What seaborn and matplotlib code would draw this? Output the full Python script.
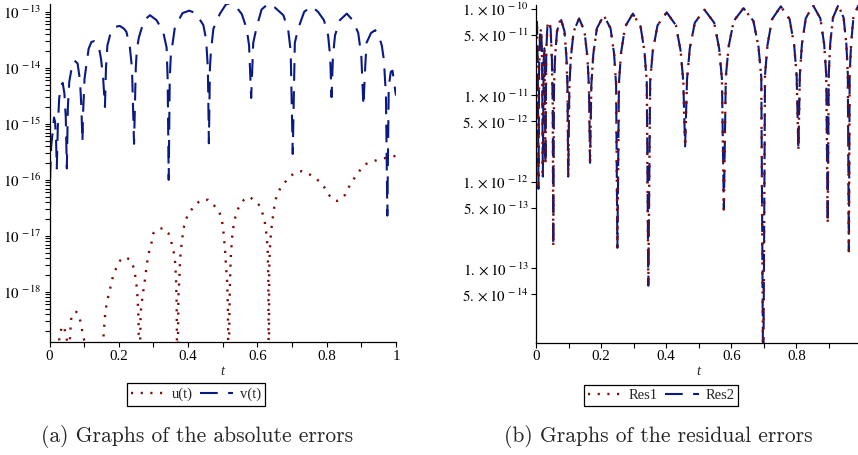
import matplotlib
matplotlib.use("Agg")
import matplotlib.pyplot as plt
import seaborn as sns
import numpy as np
from matplotlib.ticker import LogLocator, NullFormatter, NullLocator, MultipleLocator, FixedLocator

# ---------------- data: (a) absolute errors ----------------
v_t = [0.000, 0.002, 0.005, 0.009, 0.013, 0.016, 0.019,
       0.021, 0.024, 0.028, 0.033, 0.038, 0.043, 0.047,
       0.050, 0.053, 0.057, 0.064, 0.072, 0.081, 0.088, 0.092,
       0.095, 0.097, 0.101, 0.107, 0.113, 0.121, 0.129, 0.137, 0.143, 0.149, 0.155,
       0.160, 0.163, 0.167, 0.178, 0.190, 0.203, 0.215, 0.222, 0.232, 0.238,
       0.244, 0.249, 0.252, 0.258, 0.273, 0.290, 0.309, 0.328, 0.338, 0.341,
       0.344, 0.347, 0.350, 0.362, 0.384, 0.403, 0.422, 0.444, 0.452, 0.457,
       0.460, 0.463, 0.466, 0.473, 0.492, 0.510, 0.524, 0.540, 0.555, 0.569, 0.576,
       0.582, 0.588, 0.598, 0.612, 0.632, 0.650, 0.675, 0.689, 0.696,
       0.702, 0.708, 0.718, 0.735, 0.756, 0.775, 0.792, 0.804, 0.810,
       0.814, 0.818, 0.824, 0.838, 0.858, 0.875, 0.891, 0.900,
       0.906, 0.911, 0.915, 0.928, 0.940, 0.952, 0.959, 0.965, 0.971,
       0.975, 0.979, 0.985, 0.990, 0.995, 1.000]
v_err = [1e-19, 1.3e-16, 4.0e-16, 7.1e-16, 1.3e-15, 1.1e-15, 5.0e-16,
         1.6e-16, 8.9e-16, 2.9e-15, 4.6e-15, 5.4e-15, 3.5e-15, 1.3e-15,
         1.6e-16, 2.0e-15, 5.6e-15, 1.0e-14, 1.35e-14, 1.2e-14, 6.0e-15, 2.0e-15,
         4.8e-16, 1.6e-15, 6.3e-15, 1.2e-14, 2.2e-14, 2.9e-14, 3.0e-14, 2.8e-14, 2.3e-14, 1.4e-14, 6.3e-15,
         2.0e-15, 1.0e-14, 2.5e-14, 4.6e-14, 5.4e-14, 5.6e-14, 5.0e-14, 4.4e-14, 2.3e-14, 1.0e-14,
         4.4e-16, 1.0e-14, 2.1e-14, 3.5e-14, 7.1e-14, 8.7e-14, 7.1e-14, 4.4e-14, 2.3e-14, 6.3e-15,
         1.0e-16, 6.3e-15, 1.6e-14, 5.4e-14, 9.5e-14, 1.05e-13, 9.5e-14, 5.8e-14, 3.2e-14, 1.0e-14,
         4.5e-16, 1.0e-14, 2.0e-14, 5.0e-14, 9.3e-14, 1.38e-13, 1.41e-13, 1.2e-13, 9.1e-14, 5.0e-14, 2.5e-14,
         2.9e-15, 2.8e-14, 5.4e-14, 1.1e-13, 1.41e-13, 1.2e-13, 8.7e-14, 4.7e-14, 2.0e-14,
         2.9e-16, 2.8e-14, 5.1e-14, 1.0e-13, 1.26e-13, 1.0e-13, 7.1e-14, 3.8e-14, 1.6e-14,
         3.0e-15, 1.6e-14, 3.8e-14, 7.1e-14, 9.3e-14, 7.1e-14, 4.2e-14, 1.6e-14,
         2.1e-15, 1.0e-14, 2.8e-14, 4.2e-14, 4.7e-14, 3.5e-14, 2.5e-14, 1.4e-14, 3.2e-15,
         2.3e-17, 4.6e-15, 8.5e-15, 8.9e-15, 5.2e-15, 3.2e-15]

u_t = [0.000, 0.024, 0.028, 0.034, 0.040, 0.046, 0.051,
       0.057, 0.062, 0.070, 0.077, 0.084, 0.089, 0.096, 0.101,
       0.105, 0.130, 0.152,
       0.155, 0.160, 0.165, 0.175, 0.184, 0.192, 0.201, 0.216, 0.232, 0.242, 0.250, 0.254, 0.257,
       0.259, 0.263, 0.266, 0.271, 0.276, 0.280, 0.285, 0.293, 0.300, 0.309, 0.328, 0.343, 0.350,
       0.357, 0.362, 0.365, 0.367,
       0.369, 0.372, 0.375, 0.377, 0.381, 0.386, 0.391, 0.401, 0.410, 0.425, 0.439, 0.458, 0.473,
       0.487, 0.497, 0.502, 0.506, 0.509, 0.513, 0.515,
       0.517, 0.519, 0.521, 0.523, 0.526, 0.529, 0.535, 0.542, 0.550, 0.561, 0.577, 0.593, 0.608,
       0.615, 0.622, 0.627, 0.630, 0.6315,
       0.633, 0.634, 0.636, 0.639, 0.642, 0.646, 0.651, 0.657, 0.667, 0.680, 0.692, 0.709, 0.728,
       0.747, 0.766, 0.781, 0.795, 0.805, 0.819, 0.829, 0.838, 0.853, 0.862, 0.872, 0.885, 0.896,
       0.911, 0.930, 0.949, 0.968, 0.990, 1.000]
u_err = [1e-21, 1e-20, 1.4e-19, 2.2e-19, 2.5e-19, 1.9e-19, 1.3e-19,
         8e-20, 3.2e-19, 4.3e-19, 4.4e-19, 4.0e-19, 3.0e-19, 1.8e-19, 1.3e-19,
         1e-20, 5e-20, 1e-20,
         1.35e-19, 3.6e-19, 6.3e-19, 1.15e-18, 2.0e-18, 2.6e-18, 3.5e-18, 4.2e-18, 3.8e-18, 2.8e-18, 1.6e-18, 8.1e-19, 3.2e-19,
         1e-20, 4.2e-19, 6.3e-19, 1.07e-18, 1.74e-18, 2.8e-18, 4.6e-18, 6.8e-18, 1.12e-17, 1.29e-17, 1.38e-17, 1.12e-17, 8.3e-18,
         6.0e-18, 3.7e-18, 1.86e-18, 6.3e-19,
         1e-20, 8.1e-19, 1.86e-18, 4.0e-18, 6.8e-18, 1.26e-17, 1.78e-17, 2.5e-17, 2.95e-17, 3.8e-17, 4.4e-17, 4.4e-17, 3.6e-17,
         2.9e-17, 2.1e-17, 1.17e-17, 6.3e-18, 3.2e-18, 1.4e-18, 4.7e-19,
         1e-20, 3.5e-19, 1.6e-18, 4.0e-18, 7.9e-18, 1.26e-17, 2.0e-17, 2.9e-17, 3.5e-17, 4.4e-17, 5.0e-17, 4.2e-17, 3.4e-17,
         2.5e-17, 1.66e-17, 9.8e-18, 4.9e-18, 1.6e-18,
         1e-20, 2.5e-18, 5.9e-18, 1.1e-17, 1.66e-17, 2.5e-17, 4.1e-17, 5.5e-17, 7.2e-17, 9.1e-17, 1.12e-16, 1.35e-16, 1.43e-16,
         1.29e-16, 1.1e-16, 9.1e-17, 7.1e-17, 5.5e-17, 4.4e-17, 4.2e-17, 4.4e-17, 5.4e-17, 7.1e-17, 9.1e-17, 1.2e-16, 1.48e-16,
         1.9e-16, 2.1e-16, 2.3e-16, 2.45e-16, 2.6e-16, 2.7e-16]

# ---------------- data: (b) residual errors ----------------
res_t = [0.000, 0.003, 0.0055, 0.0075, 0.0095, 0.0125, 0.0155, 0.0185,
         0.021, 0.0235, 0.026, 0.029, 0.0315, 0.035, 0.040, 0.045, 0.049, 0.0515,
         0.053, 0.0553, 0.0585, 0.0645, 0.076, 0.0875, 0.0935, 0.0967,
         0.099, 0.1024, 0.107, 0.1158, 0.1325, 0.149, 0.158, 0.1627,
         0.166, 0.170, 0.176, 0.187, 0.208, 0.229, 0.240, 0.246,
         0.250, 0.2548, 0.2614, 0.2738, 0.2975, 0.3213, 0.3336, 0.3403,
         0.345, 0.3507, 0.3586, 0.3733, 0.4015, 0.4298, 0.4444, 0.4524,
         0.458, 0.464, 0.4723, 0.4878, 0.5175, 0.5473, 0.5627, 0.5711,
         0.577, 0.583, 0.5915, 0.6073, 0.6375, 0.6678, 0.6835, 0.692,
         0.698, 0.7034, 0.711, 0.725, 0.752, 0.779, 0.793, 0.8006,
         0.806, 0.8105, 0.8168, 0.8285, 0.851, 0.8735, 0.8852, 0.8915,
         0.896, 0.8993, 0.9038, 0.9123, 0.9285, 0.9448, 0.9532, 0.9578,
         0.961, 0.9635, 0.968, 0.975, 0.990]
res1 = [6.3e-11, 7.1e-11, 2.0e-11, 8.3e-13, 2.0e-11, 5.0e-11, 5.9e-11, 3.2e-11,
        1.15e-12, 2.5e-11, 3.5e-11, 1.6e-12, 3.2e-11, 6.3e-11, 7.2e-11, 5.9e-11, 2.5e-11, 7.1e-12,
        1.8e-13, 1.23e-11, 2.75e-11, 5.5e-11, 7.76e-11, 5.5e-11, 2.75e-11, 1.23e-11,
        1.15e-12, 1.23e-11, 2.75e-11, 5.5e-11, 7.76e-11, 5.5e-11, 2.75e-11, 1.23e-11,
        1.66e-12, 1.33e-11, 2.99e-11, 5.96e-11, 8.41e-11, 5.96e-11, 2.99e-11, 1.33e-11,
        1.74e-13, 1.40e-11, 3.13e-11, 6.24e-11, 8.81e-11, 6.24e-11, 3.13e-11, 1.40e-11,
        6.3e-14, 1.45e-11, 3.24e-11, 6.46e-11, 9.12e-11, 6.46e-11, 3.24e-11, 1.45e-11,
        2.57e-12, 1.55e-11, 3.47e-11, 6.92e-11, 9.77e-11, 6.92e-11, 3.47e-11, 1.55e-11,
        4.8e-13, 1.62e-11, 3.63e-11, 7.24e-11, 1.02e-10, 7.24e-11, 3.63e-11, 1.62e-11,
        3.2e-15, 1.70e-11, 3.80e-11, 7.59e-11, 1.07e-10, 7.59e-11, 3.80e-11, 1.70e-11,
        2.34e-12, 1.74e-11, 3.89e-11, 7.76e-11, 1.10e-10, 7.76e-11, 3.89e-11, 1.74e-11,
        3.3e-13, 1.78e-11, 3.98e-11, 7.94e-11, 1.10e-10, 7.94e-11, 3.98e-11, 1.78e-11,
        1.58e-13, 1.78e-11, 3.98e-11, 7.94e-11, 1.10e-10]
res2 = list(res1)  # Res2 coincides with Res1 in the figure

x_major_a = [0, 0.2, 0.4, 0.6, 0.8, 1]
x_labels_a = ["0", "0.2", "0.4", "0.6", "0.8", "1"]
y_major_a = [1e-13, 1e-14, 1e-15, 1e-16, 1e-17, 1e-18]
y_labels_a = [r"$10^{\,-13}$", r"$10^{\,-14}$", r"$10^{\,-15}$", r"$10^{\,-16}$", r"$10^{\,-17}$", r"$10^{\,-18}$"]
x_major_b = [0, 0.2, 0.4, 0.6, 0.8]
x_labels_b = ["0", "0.2", "0.4", "0.6", "0.8"]
y_major_b = [1e-10, 5e-11, 1e-11, 5e-12, 1e-12, 5e-13, 1e-13, 5e-14]
y_labels_b = [r"$1.\times10^{\,-10}$", r"$5.\times10^{\,-11}$", r"$1.\times10^{\,-11}$", r"$5.\times10^{\,-12}$",
              r"$1.\times10^{\,-12}$", r"$5.\times10^{\,-13}$", r"$1.\times10^{\,-13}$", r"$5.\times10^{\,-14}$"]

RED = "#7e0a0a"
BLUE = "#0a1a84"

sns.set_theme(style="ticks")
plt.rcParams["font.family"] = ["Liberation Serif", "DejaVu Serif"]
plt.rcParams["mathtext.fontset"] = "stix"

W, H = 858, 455
fig = plt.figure(figsize=(W / 100, H / 100), dpi=100)
axL = fig.add_axes([49.5 / W, 1 - 342.3 / H, 346.5 / W, 338.3 / H])
axR = fig.add_axes([536 / W, 1 - 342.7 / H, 322.3 / W, 337.7 / H])

DOT = (0.9, 3.2)
DASH = (8.5, 5.0)

sns.lineplot(x=u_t, y=u_err, ax=axL, color=RED, lw=1.7, sort=False, estimator=None, legend=False)
lu = axL.lines[-1]
lu.set_dashes(DOT)
sns.lineplot(x=v_t, y=v_err, ax=axL, color=BLUE, lw=1.5, sort=False, estimator=None, legend=False)
lv = axL.lines[-1]
lv.set_dashes(DASH)

sns.lineplot(x=res_t, y=res2, ax=axR, color=BLUE, lw=1.5, sort=False, estimator=None, legend=False)
lr2 = axR.lines[-1]
lr2.set_dashes(DASH)
sns.lineplot(x=res_t, y=res1, ax=axR, color=RED, lw=1.7, sort=False, estimator=None, legend=False)
lr1 = axR.lines[-1]
lr1.set_dashes(DOT)

for ax in (axL, axR):
    ax.set_yscale("log")
    for s in ("top", "right"):
        ax.spines[s].set_visible(False)
    for s in ("left", "bottom"):
        ax.spines[s].set_color("black")
        ax.spines[s].set_linewidth(0.9)
    ax.xaxis.set_minor_locator(MultipleLocator(0.1))
    ax.tick_params(which="both", direction="out", length=3.5, width=0.8, colors="black",
                   labelsize=10.8, pad=2)
    ax.set_xlabel("")
    ax.set_ylabel("")
    ax.set_facecolor("white")

axL.set_xlim(0, 1)
axL.set_ylim(10 ** -18.9, 10 ** -12.86)
axL.set_xticks(x_major_a)
axL.set_xticklabels(x_labels_a)
axL.yaxis.set_major_locator(FixedLocator(y_major_a))
axL.set_yticklabels(y_labels_a)
axL.yaxis.set_minor_locator(LogLocator(base=10, subs=np.arange(2, 10) * 1.0, numticks=30))
axL.yaxis.set_minor_formatter(NullFormatter())

axR.set_xlim(0, 0.99)
axR.set_ylim(10 ** -13.86, 10 ** -9.955)
axR.set_xticks(x_major_b)
axR.set_xticklabels(x_labels_b)
axR.yaxis.set_major_locator(FixedLocator(y_major_b))
axR.set_yticklabels(y_labels_b)
axR.yaxis.set_minor_locator(NullLocator())

fig.text(222.7 / W, 1 - 371.7 / H, "t", ha="center", va="center", style="italic", fontsize=10.5)
fig.text(698.3 / W, 1 - 371.7 / H, "t", ha="center", va="center", style="italic", fontsize=10.5)

legkw = dict(loc="center", ncol=2, frameon=True, fancybox=False, edgecolor="black", framealpha=1,
             handlelength=2.3, handletextpad=0.45, columnspacing=0.5, borderpad=0.3, fontsize=10.5,
             borderaxespad=0)
legA = fig.legend([lu, lv], ["u(t)", "v(t)"], bbox_to_anchor=(196.2 / W, 1 - 394.5 / H), **legkw)
legA.get_frame().set_linewidth(0.9)
legB = fig.legend([lr1, lr2], ["Res1", "Res2"], bbox_to_anchor=(661.3 / W, 1 - 395.5 / H), **legkw)
legB.get_frame().set_linewidth(0.9)

fig.text(197 / W, 1 - 437 / H, "(a) Graphs of the absolute errors", ha="center", va="center",
         fontfamily="cmr10", fontsize=15.5)
fig.text(658.5 / W, 1 - 437 / H, "(b) Graphs of the residual errors", ha="center", va="center",
         fontfamily="cmr10", fontsize=15.5)

fig.savefig("out.png", dpi=100, facecolor="white")
